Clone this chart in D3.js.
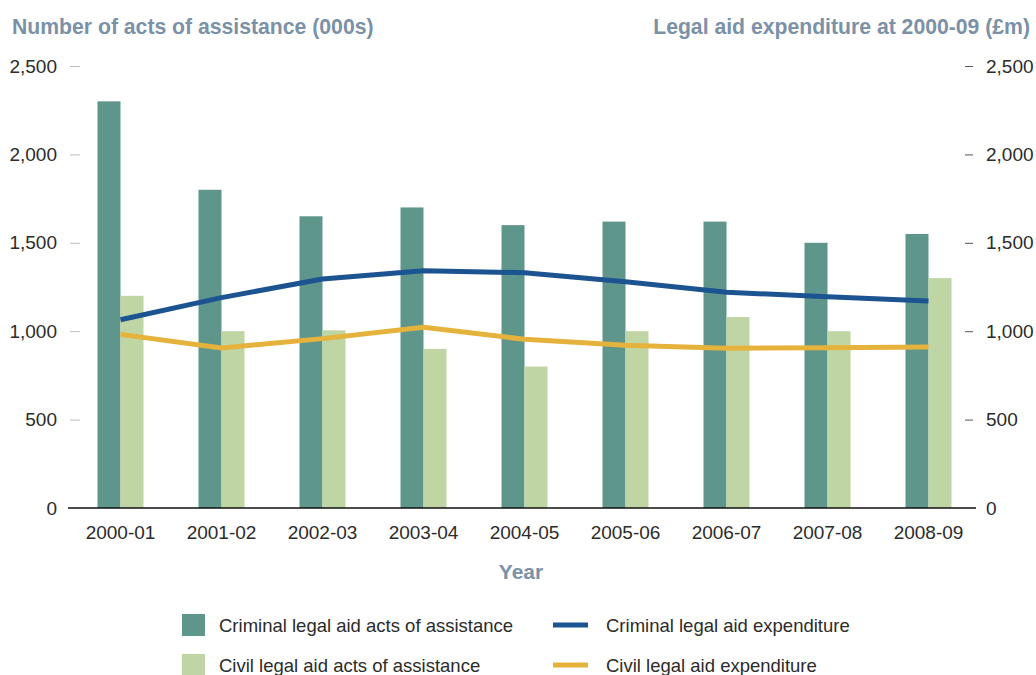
<!DOCTYPE html>
<html>
<head>
<meta charset="utf-8">
<script src="https://cdn.jsdelivr.net/npm/d3@7"></script>
<style>
  html, body { margin: 0; padding: 0; background: #fff; }
  svg { display: block; font-family: "Liberation Sans", Arial, sans-serif; }
</style>
</head>
<body>
<svg id="chart" width="1036" height="675"></svg>
<script>
// Legal aid: acts of assistance (000s) and expenditure (£m), 2000-01 to 2008-09
const years = ["2000-01", "2001-02", "2002-03", "2003-04", "2004-05", "2005-06", "2006-07", "2007-08", "2008-09"];
const criminalActs = [2300, 1800, 1650, 1700, 1600, 1620, 1620, 1500, 1550];
const civilActs = [1200, 1000, 1005, 900, 800, 1000, 1080, 1000, 1300];
const criminalSpend = [1065, 1190, 1295, 1342, 1331, 1280, 1220, 1195, 1171];
const civilSpend = [982, 905, 958, 1022, 954, 920, 903, 907, 910];
const yTicks = [0, 500, 1000, 1500, 2000, 2500];

const colors = {
  criminalActs: "#5f968c",
  civilActs: "#bfd5a3",
  criminalSpend: "#1c5391",
  civilSpend: "#e5b23b",
  title: "#7b91a8",
  text: "#2b2b2b",
  tick: "#bdbdbd"
};

const svg = d3.select("#chart");

const x = d3.scaleBand().domain(years).range([70, 979]).padding(0);
const y = d3.scaleLinear().domain([0, 2500]).range([508, 66]);
const barW = 23;

// Axis titles
svg.append("text").attr("x", 12).attr("y", 34)
  .attr("font-size", 21.2).attr("font-weight", "bold").attr("fill", colors.title)
  .text("Number of acts of assistance (000s)");
svg.append("text").attr("x", 1030).attr("y", 34).attr("text-anchor", "end")
  .attr("font-size", 21.2).attr("font-weight", "bold").attr("fill", colors.title)
  .text("Legal aid expenditure at 2000-09 (£m)");

// Left axis
const fmt = d3.format(",");
const leftAxis = svg.append("g").attr("transform", "translate(80,0)")
  .call(d3.axisLeft(y).tickValues(yTicks).tickFormat(fmt).tickSize(10).tickPadding(13));
leftAxis.select(".domain").remove();
leftAxis.selectAll(".tick line").attr("stroke", colors.tick).attr("stroke-width", 1);
leftAxis.selectAll(".tick text").attr("font-size", 19).attr("fill", colors.text)
  .attr("font-family", "Liberation Sans, Arial, sans-serif");
leftAxis.selectAll(".tick").filter(d => d === 0).select("line").remove();

// Right axis
const rightAxis = svg.append("g").attr("transform", "translate(965,0)")
  .call(d3.axisRight(y).tickValues(yTicks).tickFormat(fmt).tickSize(8).tickPadding(13));
rightAxis.select(".domain").remove();
rightAxis.selectAll(".tick line").attr("stroke", "#555").attr("stroke-width", 1);
rightAxis.selectAll(".tick text").attr("font-size", 19).attr("fill", colors.text)
  .attr("font-family", "Liberation Sans, Arial, sans-serif");
rightAxis.selectAll(".tick").filter(d => d === 0).select("line").remove();

// Bars
const center = d => x(d) + x.bandwidth() / 2;
svg.append("g").selectAll("rect").data(years).join("rect")
  .attr("x", d => center(d) - barW)
  .attr("y", (d, i) => y(criminalActs[i]))
  .attr("width", barW)
  .attr("height", (d, i) => y(0) - y(criminalActs[i]))
  .attr("fill", colors.criminalActs);
svg.append("g").selectAll("rect").data(years).join("rect")
  .attr("x", d => center(d))
  .attr("y", (d, i) => y(civilActs[i]))
  .attr("width", barW)
  .attr("height", (d, i) => y(0) - y(civilActs[i]))
  .attr("fill", colors.civilActs);

// Baseline
svg.append("line").attr("x1", 68).attr("x2", 976).attr("y1", y(0)).attr("y2", y(0))
  .attr("stroke", "#111").attr("stroke-width", 1.3);

// X axis labels
const xAxis = svg.append("g").attr("transform", `translate(0,${y(0)})`)
  .call(d3.axisBottom(x).tickSize(0).tickPadding(18));
xAxis.select(".domain").remove();
xAxis.selectAll(".tick text").attr("font-size", 19).attr("fill", colors.text)
  .attr("font-family", "Liberation Sans, Arial, sans-serif");

svg.append("text").attr("x", 521).attr("y", 579).attr("text-anchor", "middle")
  .attr("font-size", 21).attr("font-weight", "bold").attr("fill", colors.title)
  .text("Year");

// Expenditure lines
const line = d3.line().x(d => center(d[0])).y(d => y(d[1]));
svg.append("path").datum(years.map((d, i) => [d, criminalSpend[i]]))
  .attr("d", line).attr("fill", "none").attr("stroke", colors.criminalSpend)
  .attr("stroke-width", 5).attr("stroke-linejoin", "round");
svg.append("path").datum(years.map((d, i) => [d, civilSpend[i]]))
  .attr("d", line).attr("fill", "none").attr("stroke", colors.civilSpend)
  .attr("stroke-width", 5).attr("stroke-linejoin", "round");

// Legend
const legend = svg.append("g").attr("font-size", 18.5).attr("fill", colors.text);
const legendItems = [
  { label: "Criminal legal aid acts of assistance", type: "rect", color: colors.criminalActs, x: 182, y: 625 },
  { label: "Civil legal aid acts of assistance", type: "rect", color: colors.civilActs, x: 182, y: 665 },
  { label: "Criminal legal aid expenditure", type: "line", color: colors.criminalSpend, x: 553, y: 625 },
  { label: "Civil legal aid expenditure", type: "line", color: colors.civilSpend, x: 553, y: 665 }
];
legendItems.forEach(it => {
  if (it.type === "rect") {
    legend.append("rect").attr("x", it.x).attr("y", it.y - 11).attr("width", 23).attr("height", 22).attr("fill", it.color);
    legend.append("text").attr("x", it.x + 37).attr("y", it.y + 6.5).text(it.label);
  } else {
    legend.append("line").attr("x1", it.x).attr("x2", it.x + 35).attr("y1", it.y).attr("y2", it.y)
      .attr("stroke", it.color).attr("stroke-width", 5);
    legend.append("text").attr("x", it.x + 53).attr("y", it.y + 6.5).text(it.label);
  }
});
</script>
</body>
</html>
